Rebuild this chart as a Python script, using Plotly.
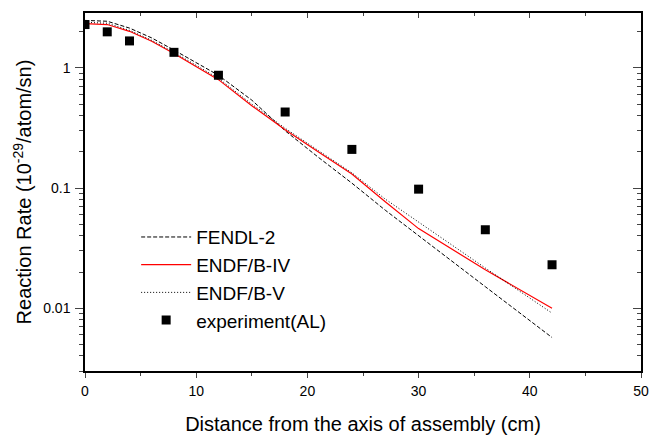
import plotly.graph_objects as go
import numpy as np

# Data
x_calc = [0, 2, 4, 6, 8, 10, 12, 15, 18, 21, 24, 27, 30, 36, 42]
fendl2 = [2.49, 2.45, 2.15, 1.78, 1.41, 1.10, 0.87, 0.54, 0.30, 0.18, 0.110, 0.0655, 0.040, 0.0151, 0.0057]
endfb4 = [2.34, 2.30, 2.02, 1.67, 1.32, 1.03, 0.80, 0.485, 0.306, 0.20, 0.131, 0.077, 0.046, 0.0209, 0.0100]
endfb5 = [2.40, 2.36, 2.06, 1.70, 1.35, 1.05, 0.82, 0.50, 0.315, 0.205, 0.134, 0.081, 0.052, 0.0216, 0.0091]

x_exp = [0, 2, 4, 8, 12, 18, 24, 30, 36, 42]
experiment = [2.30, 2.0, 1.68, 1.35, 0.87, 0.43, 0.21, 0.098, 0.045, 0.023]

x_ticks = [0, 10, 20, 30, 40, 50]
y_ticks = [0.01, 0.1, 1]
y_ticktext = ["0.01", "0.1", "1"]

y_minor = [m * 10.0**d for d in (-3, -2, -1, 0) for m in range(2, 10)]
y_range = [np.log10(0.003), np.log10(2.87)]

FONT = "Liberation Sans, Arial, sans-serif"

fig = go.Figure()
fig.add_trace(go.Scatter(x=x_calc, y=fendl2, mode="lines", name="FENDL-2",
                         line=dict(color="black", width=1, dash="4px,2px")))
fig.add_trace(go.Scatter(x=x_calc, y=endfb4, mode="lines", name="ENDF/B-IV",
                         line=dict(color="#ff0000", width=1.2)))
fig.add_trace(go.Scatter(x=x_calc, y=endfb5, mode="lines", name="ENDF/B-V",
                         line=dict(color="black", width=1, dash="1px,2px")))
fig.add_trace(go.Scatter(x=x_exp, y=experiment, mode="markers", name="experiment(AL)",
                         marker=dict(symbol="square", size=9, color="black")))
# helper trace for the mirrored (top/right) axes
fig.add_trace(go.Scatter(x=[0], y=[1], xaxis="x2", yaxis="y2", mode="markers",
                         marker=dict(size=0.1, opacity=0),
                         showlegend=False, hoverinfo="skip"))

fig.update_layout(
    width=649, height=435,
    margin=dict(l=85, r=8, t=13, b=64),
    paper_bgcolor="white", plot_bgcolor="white",
    font=dict(family=FONT, size=14, color="black"),
    showlegend=True,
    legend=dict(x=0.092, y=0.427, xanchor="left", yanchor="top",
                bgcolor="rgba(0,0,0,0)", font=dict(size=19, family=FONT),
                itemwidth=50),
    xaxis=dict(range=[0, 50], tickvals=x_ticks, ticks="outside", ticklen=5,
               tickwidth=1.2, showline=True, linewidth=1.5, linecolor="black",
               showgrid=False, zeroline=False, automargin=False,
               ticklabelstandoff=1,
               minor=dict(dtick=5, ticks="outside", ticklen=3, tickwidth=1.2),
               title=dict(text="Distance from the axis of assembly (cm)",
                          font=dict(size=20), standoff=38)),
    yaxis=dict(type="log", range=y_range, tickvals=y_ticks, ticktext=y_ticktext,
               ticks="outside", ticklen=8, tickwidth=1.2, showline=True,
               linewidth=1.5, linecolor="black", showgrid=False, zeroline=False,
               automargin=False, ticklabelstandoff=2,
               minor=dict(tickvals=y_minor, ticks="outside", ticklen=4, tickwidth=1),
               title=dict(text="Reaction Rate (10<sup>-29</sup>/atom/sn)",
                          font=dict(size=20), standoff=6)),
    xaxis2=dict(overlaying="x", side="top", anchor="y", range=[0, 50],
                tickvals=x_ticks, ticks="inside", ticklen=5, tickwidth=1.2,
                showticklabels=False, showline=True, linewidth=1.5,
                linecolor="black", showgrid=False, zeroline=False, automargin=False,
                minor=dict(dtick=5, ticks="inside", ticklen=3, tickwidth=1.2)),
    yaxis2=dict(overlaying="y", side="right", anchor="x", type="log", range=y_range,
                tickvals=y_ticks, ticks="inside", ticklen=8, tickwidth=1.2,
                showticklabels=False, showline=True, linewidth=1.5,
                linecolor="black", showgrid=False, zeroline=False, automargin=False,
                minor=dict(tickvals=y_minor, ticks="inside", ticklen=4, tickwidth=1)),
)

# remove the page's default 8px body margin so the figure fills the window exactly
fig.write_html("out.html",
               config={"displayModeBar": False},
               post_script="document.body.style.margin='0';"
                           "document.body.style.overflow='hidden';")
